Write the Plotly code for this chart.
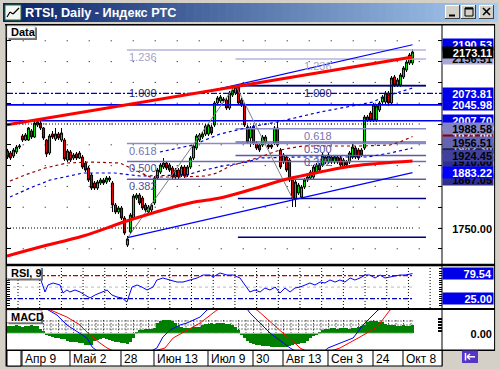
import plotly.graph_objects as go

W, H = 500, 369
FONT = "Liberation Sans"

# ---------------- data ----------------
date_labels = ["Апр 9", "Май 2", "28", "Июн 13", "Июл 9", "30", "Авг 13", "Сен 3", "24", "Окт 8"]
date_bars = [5, 21, 38, 49, 67, 82, 92, 107, 122, 132]

opens = [1935.1, 1930.3, 1923.1, 1932.7, 1944.7, 1971.2, 1961.5, 1961.5, 1983.2, 1968.7,
         1997.6, 2002.4, 1990.4, 1961.5, 1930.3, 1976.0, 1963.9, 1976.0, 1961.5, 1961.5,
         1913.5, 1932.7, 1918.3, 1927.9, 1918.3, 1920.7, 1906.2, 1894.2, 1877.4, 1858.2,
         1846.1, 1858.2, 1865.4, 1860.6, 1865.4, 1858.2, 1805.3, 1788.5, 1798.1, 1774.0,
         1709.1, 1740.4, 1774.0, 1822.1, 1829.3, 1822.1, 1805.3, 1788.5, 1793.3, 1810.1,
         1870.2, 1884.6, 1896.6, 1906.2, 1901.4, 1894.2, 1872.6, 1889.4, 1877.4, 1896.6,
         1877.4, 1896.6, 1918.3, 1942.3, 1961.5, 1968.7, 1976.0, 1976.0, 1992.8, 1997.6,
         2050.5, 2055.3, 2060.1, 2057.7, 2038.5, 2069.7, 2074.5, 2088.9, 2057.7, 2045.7,
         1992.8, 1966.3, 1992.8, 1954.3, 1949.5, 1949.5, 1956.7, 1949.5, 1949.5, 1954.3,
         1990.4, 1937.5, 1908.6, 1920.7, 1913.5, 1865.4, 1820.7, 1834.1, 1824.5, 1848.5,
         1865.4, 1870.2, 1872.6, 1884.6, 1901.4, 1901.4, 1908.6, 1908.6, 1920.7, 1908.6,
         1920.7, 1918.3, 1896.6, 1908.6, 1908.6, 1920.7, 1942.3, 1937.5, 1937.5, 1942.3,
         2009.6, 2026.4, 2009.6, 2009.6, 2033.7, 2052.9, 2052.9, 2074.5, 2050.5, 2113.0,
         2093.8, 2093.8, 2113.0, 2129.8, 2146.6, 2146.6]
highs = [1939.9, 1935.1, 1942.3, 1949.5, 1951.9, 1976.0, 1978.4, 1992.8, 1988.0, 2007.2,
         2012.0, 2007.2, 1992.8, 1963.9, 1976.0, 1983.2, 1990.4, 1980.8, 1990.4, 1966.3,
         1939.9, 1937.5, 1930.3, 1932.7, 1935.1, 1925.5, 1911.1, 1899.0, 1882.2, 1863.0,
         1865.4, 1870.2, 1870.2, 1875.0, 1875.0, 1863.0, 1810.1, 1802.9, 1802.9, 1778.8,
         1730.8, 1786.0, 1831.7, 1834.1, 1834.1, 1826.9, 1810.1, 1805.3, 1810.1, 1875.0,
         1894.2, 1906.2, 1918.3, 1911.1, 1906.2, 1899.0, 1894.2, 1894.2, 1901.4, 1901.4,
         1901.4, 1923.1, 1951.9, 1976.0, 1978.4, 1980.8, 2000.0, 2002.4, 1997.6, 2055.3,
         2067.3, 2069.7, 2064.9, 2062.5, 2079.3, 2086.5, 2092.4, 2092.0, 2062.5, 2050.5,
         1997.6, 1995.2, 1997.6, 1959.1, 1954.3, 1973.6, 1973.6, 1954.3, 1954.3, 1995.2,
         2004.8, 1942.3, 1930.3, 1925.5, 1918.3, 1870.2, 1865.4, 1858.2, 1853.4, 1870.2,
         1877.4, 1889.4, 1901.4, 1906.2, 1906.2, 1930.3, 1925.5, 1930.3, 1925.5, 1925.5,
         1925.5, 1923.1, 1918.3, 1913.5, 1935.1, 1954.3, 1947.1, 1942.3, 1942.3, 2021.6,
         2021.6, 2031.3, 2050.5, 2048.1, 2055.3, 2069.7, 2079.3, 2079.3, 2115.4, 2117.8,
         2110.6, 2122.6, 2139.4, 2153.9, 2170.7, 2180.3]
lows = [1915.9, 1913.5, 1918.3, 1927.9, 1939.9, 1956.7, 1959.1, 1959.1, 1963.9, 1966.3,
        1992.8, 1985.6, 1961.5, 1920.7, 1925.5, 1963.9, 1959.1, 1961.5, 1956.7, 1911.1,
        1908.6, 1908.6, 1913.5, 1913.5, 1915.9, 1891.8, 1884.6, 1860.6, 1841.3, 1841.3,
        1841.3, 1853.4, 1853.4, 1855.8, 1860.6, 1788.5, 1783.6, 1783.6, 1769.2, 1733.2,
        1704.4, 1735.6, 1769.2, 1817.3, 1805.3, 1793.3, 1788.5, 1783.6, 1788.5, 1805.3,
        1865.4, 1879.8, 1891.8, 1889.4, 1884.6, 1867.8, 1867.8, 1867.8, 1872.6, 1870.2,
        1872.6, 1891.8, 1913.5, 1937.5, 1956.7, 1963.9, 1971.2, 1971.2, 1973.6, 1992.8,
        2045.7, 2050.5, 2050.5, 2033.7, 2033.7, 2064.9, 2069.7, 2045.7, 2040.9, 1992.8,
        1951.9, 1944.7, 1949.5, 1937.5, 1932.7, 1944.7, 1951.9, 1939.9, 1939.9, 1949.5,
        1944.7, 1891.8, 1903.8, 1884.6, 1860.6, 1800.5, 1800.5, 1829.3, 1819.7, 1843.7,
        1860.6, 1865.4, 1867.8, 1879.8, 1884.6, 1896.6, 1903.8, 1903.8, 1903.8, 1903.8,
        1903.8, 1896.6, 1891.8, 1896.6, 1903.8, 1915.9, 1915.9, 1913.5, 1920.7, 1937.5,
        2004.8, 2004.8, 2004.8, 2004.8, 2028.8, 2048.1, 2048.1, 2043.3, 2045.7, 2088.9,
        2088.9, 2088.9, 2108.2, 2125.0, 2141.8, 2141.8]
closes = [1920.7, 1918.3, 1937.5, 1944.7, 1947.1, 1961.5, 1973.6, 1990.4, 1968.7, 2002.4,
          2004.8, 1990.4, 1966.3, 1927.9, 1971.2, 1968.7, 1976.0, 1966.3, 1978.4, 1915.9,
          1935.1, 1913.5, 1925.5, 1918.3, 1930.3, 1896.6, 1889.4, 1865.4, 1846.1, 1846.1,
          1860.6, 1865.4, 1858.2, 1870.2, 1870.2, 1805.3, 1788.5, 1798.1, 1774.0, 1738.0,
          1723.5, 1781.2, 1826.9, 1829.3, 1810.1, 1798.1, 1793.3, 1800.5, 1805.3, 1870.2,
          1889.4, 1901.4, 1906.2, 1894.2, 1889.4, 1872.6, 1889.4, 1872.6, 1896.6, 1875.0,
          1896.6, 1918.3, 1947.1, 1971.2, 1973.6, 1976.0, 1995.2, 1997.6, 1978.4, 2050.5,
          2062.5, 2064.9, 2055.3, 2038.5, 2074.5, 2081.7, 2088.9, 2050.5, 2045.7, 1997.6,
          1956.7, 1990.4, 1954.3, 1942.3, 1937.5, 1968.7, 1968.7, 1944.7, 1944.7, 1990.4,
          1949.5, 1896.6, 1925.5, 1889.4, 1865.4, 1820.7, 1860.6, 1853.4, 1848.5, 1865.4,
          1872.6, 1884.6, 1896.6, 1901.4, 1889.4, 1925.5, 1920.7, 1925.5, 1908.6, 1920.7,
          1908.6, 1901.4, 1913.5, 1901.4, 1930.3, 1944.7, 1920.7, 1918.3, 1925.5, 2016.8,
          2016.8, 2009.6, 2045.7, 2043.3, 2050.5, 2064.9, 2074.5, 2050.5, 2110.6, 2093.8,
          2105.8, 2117.8, 2134.6, 2149.0, 2165.9, 2173.11]
bars = list(range(len(closes)))

# horizontal price levels
level_solid = [2045.98, 2007.70]
level_dashdot = [2073.81]
level_dotted = [2000.0, 1750.0]
grid_levels = list(range(1700, 2201, 50))

# trend lines (bar, price)
red_trend_x = [-0.17, 135]
red_trend_y = [1998.0, 2161.0]
chan_up_x = [69, 135]
chan_up_y = [2082.0, 2190.53]
chan_lo_x = [40, 135]
chan_lo_y = [1727.0, 1883.22]
zig_x = [40, 76, 95]
zig_y = [1726.0, 2093.8, 1820.7]

# fibonacci retracements (low, high), start bar
fib_left = (1728.0, 2092.0)
fib_right = (1820.66, 2092.36)
fib_left_start = 39.8
fib_right_start = 76.0
fib_levels = [0.382, 0.5, 0.618, 1.236]
fib_texts = ["0.382", "0.500", "0.618", "1.236"]

# moving averages (bar, price)
ma_red_x = [-0.17, 10.8, 25.2, 41.8, 60.8, 70.8, 81.8, 93.2, 104.2, 115.2, 135]
ma_red_y = [1682.7, 1704.4, 1730.8, 1771.6, 1810.1, 1822.1, 1843.7, 1867.8, 1884.6, 1899.0, 1911.0]
ma_dr_x = [0.83, 5.83, 12.5, 19.8, 27.5, 37.5, 42.5, 47.5, 57.5, 65.8, 69.8, 74.2, 83.2, 90.8,
           98.2, 107.5, 117.5, 127.5, 130.8, 135]
ma_dr_y = [1862.9, 1877.4, 1894.2, 1906.2, 1908.6, 1906.2, 1889.4, 1872.6, 1872.6, 1875.0,
           1882.2, 1899.0, 1918.3, 1937.5, 1947.1, 1947.1, 1947.1, 1949.5, 1956.7, 1970.0]
ma_bl_x = [0.83, 7.5, 14.2, 25.2, 35.8, 44.2, 59.8, 64.2, 71.8, 79.8, 84.2, 97.5, 119.8, 127.5, 135]
ma_bl_y = [1824.5, 1846.1, 1865.4, 1882.2, 1882.2, 1875.0, 1877.4, 1887.0, 1899.0, 1908.6,
           1918.3, 1920.7, 1920.7, 1930.3, 1942.3]
ma_bu_x = [50.8, 61.8, 70.8, 80.8, 89.8, 104.2, 121.8, 125.2, 135]
ma_bu_y = [1932.7, 1949.5, 1976.0, 1992.8, 2004.8, 2028.8, 2052.9, 2064.9, 2086.5]

# RSI(9)
rsi_x = [0, 1.8, 4.2, 6.5, 8.2, 9.8, 10.8, 12.5, 13.5, 15.2, 17.5, 18.5, 19.8, 20.8, 22.5, 24.2,
         25.8, 27.5, 29.2, 30.8, 33.2, 34.8, 36.5, 38.2, 39.8, 41.5, 43.2, 44.8, 46.5, 48.5, 49.8,
         51.8, 54.2, 56.5, 58.5, 60.8, 63.2, 65.2, 67.5, 68.5, 70.8, 73.2, 75.2, 77.5, 79.2, 80.8,
         82.5, 84.2, 85.8, 87.5, 89.2, 90.8, 92.5, 94.2, 95.8, 97.5, 99.2, 100.8, 102.5, 104.2,
         105.8, 107.5, 109.2, 110.8, 112.5, 114.2, 115.8, 117.5, 119.2, 120.8, 122.5, 124.2,
         125.8, 127.5, 129.2, 130.8, 132.5, 135]
rsi_v = [65.6, 70.0, 72.2, 76.5, 70.0, 76.5, 72.2, 39.4, 54.7, 59.1, 54.7, 37.2, 43.8, 39.4, 43.8,
         39.4, 32.9, 26.3, 32.9, 37.2, 43.8, 32.9, 28.5, 26.3, 17.6, 50.3, 54.7, 50.3, 43.8, 50.3,
         65.6, 70.0, 65.6, 61.2, 61.2, 65.6, 70.0, 76.5, 76.5, 72.2, 80.9, 76.5, 76.5, 70.0, 54.7,
         39.4, 43.8, 39.4, 48.1, 43.8, 50.3, 37.2, 48.1, 39.4, 48.1, 50.3, 54.7, 59.1, 54.7, 61.2,
         59.1, 65.6, 61.2, 65.6, 61.2, 70.0, 65.6, 70.0, 76.5, 76.5, 70.0, 76.5, 70.0, 72.2, 74.3,
         76.5, 76.5, 79.54]
rsi_levels = [75, 50, 25]

# MACD
macd_hist = [14, 15, 14, 16, 14, 13, 15, 14, 16, 15, 14, 8, 5, -3, -6, -8, -9, -10, -11, -12,
             -16, -17, -18, -18, -19, -20, -23, -24, -24, -16, -14, -12, -10, -11, -13, -15,
             -17, -18, -19, -20, -21, -18, -10, 2, 6, 7, 8, 8, 9, 10, 20, 24, 26, 27, 26, 24,
             20, 14, 12, 11, 10, 11, 12, 12, 13, 16, 18, 19, 20, 19, 20, 21, 20, 19, 18, 17,
             12, 6, -4, -10, -16, -20, -22, -24, -24, -25, -25, -26, -27, -28, -28, -27, -28,
             -27, -26, -24, -22, -21, -20, -19, -16, -10, -6, -2, 1, 6, 8, 9, 10, 10, 9, 10,
             10, 10, 9, 10, 11, 12, 15, 17, 22, 24, 25, 24, 23, 22, 18, 17, 16, 16, 15, 15, 16,
             15, 15, 16]
macd_x = [0, 6.5, 12, 16.5, 19.8, 23.5, 26.5, 28.2, 33, 40, 45, 49.8, 51.8, 54.2, 57.5, 59.8,
          64.2, 66.5, 72, 78, 80.8, 87.5, 94.2, 100, 104, 106.8, 111.8, 115.2, 118.5, 120.8,
          123.5, 130, 135]
macd_v = [22, 36.6, 52, 36.6, 16.6, 2.6, -9.4, -27.4, -50, -60, -45, -29.4, -7.4, 6.6, 16.6,
          20.6, 32.6, 46.6, 70, 65, 40.6, 0.6, -29.4, -50, -45, -29.4, -17.4, -9.4, 16.6, 30.6,
          46.6, 65, 70]
sig_x = [0, 6.5, 13, 19.8, 24.2, 26.8, 30.8, 33.2, 40, 46, 52.5, 55.2, 59.8, 64.2, 69.8, 76,
         83.2, 87.5, 91.8, 96.5, 97.5, 103, 110.8, 117.5, 123.2, 127.5, 135]
sig_v = [20.6, 36.6, 50, 32.6, 16.6, 0.6, -19.4, -29.4, -50, -40, -29.4, -9.4, 6.6, 20.6, 46.6,
         60, 46.6, 22.6, 0.6, -23.4, -29.4, -45, -29.4, -7.4, 12.6, 46.6, 70]

# right-axis value labels (drawn in this order): value, text, background, text colour
price_labels = [
    (2156.51, "2156.51", "#A8A8D8", "#000000"),
    (2190.53, "2190.53", "#0000E8", "#FFFFFF"),
    (2173.11, "2173.11", "#000000", "#FFFFFF"),
    (2073.81, "2073.81", "#0000E8", "#FFFFFF"),
    (2045.98, "2045.98", "#0000E8", "#FFFFFF"),
    (2007.70, "2007.70", "#0000E8", "#FFFFFF"),
    (1971.00, "1971.00", "#8B0000", "#FFFFFF"),
    (1988.58, "1988.58", "#8484C4", "#000000"),
    (1942.30, "1942.30", "#000000", "#FFFFFF"),
    (1956.51, "1956.51", "#6464B4", "#000000"),
    (1910.00, "1910.00", "#30308C", "#000000"),
    (1924.45, "1924.45", "#40409E", "#000000"),
    (1867.05, "1867.05", "#30308C", "#000000"),
    (1883.22, "1883.22", "#0000FF", "#FFFFFF"),
]
rsi_labels = [(79.54, "79.54"), (25.00, "25.00")]

# ---------------- geometry helpers (layout only) ----------------
def X(px):
    return px / W

def Y(py):
    return 1 - py / H

X0, X1 = -0.167, 144.83          # bar range of the 7..442 px plot width
DATA_END = 135.2
shapes, annots = [], []

def prect(x0, y0, x1, y1, fill, line=None, lw=0, layer="above"):
    shapes.append(dict(type="rect", xref="paper", yref="paper", x0=X(x0), x1=X(x1),
                       y0=Y(y1), y1=Y(y0), fillcolor=fill,
                       line=dict(color=line or fill, width=lw), layer=layer))

def pline(x0, y0, x1, y1, color, lw=1, dash="solid"):
    shapes.append(dict(type="line", xref="paper", yref="paper", x0=X(x0), x1=X(x1),
                       y0=Y(y0), y1=Y(y1), line=dict(color=color, width=lw, dash=dash)))

traces = []

def line_trace(x, y, color, width=1, dash="solid", axis="y", shape="linear"):
    traces.append(go.Scatter(x=x, y=y, mode="lines", yaxis=axis, hoverinfo="skip",
                             line=dict(color=color, width=width, dash=dash, shape=shape),
                             showlegend=False))

# ---------------- price pane ----------------
for lv in grid_levels:
    shapes.append(dict(type="line", xref="x", yref="y", x0=5.07, x1=144.5, y0=lv, y1=lv,
                       line=dict(color="black", width=1, dash="1px,21px"), layer="below"))

fib_cols = {0.382: "#5A5AAA", 0.5: "#6C6CB4", 0.618: "#8A8AC6", 1.236: "#B4B4DA"}
for fib, start in ((fib_left, fib_left_start), (fib_right, fib_right_start)):
    lo, hi = fib
    for lv in fib_levels:
        p = lo + lv * (hi - lo)
        line_trace([start, 139.5], [p, p], fib_cols[lv], 1.5)
    for lv in (0.0, 1.0):
        p = lo + lv * (hi - lo)
        line_trace([76.8, 139.5], [p, p], "#000080", 1.5)

for lv in level_solid:
    line_trace([X0, X1], [lv, lv], "#0000F0", 1.6)
for lv in level_dashdot:
    line_trace([X0, X1], [lv, lv], "#0000C0", 1.2, "6px,2px,2px,2px")
for lv in level_dotted:
    line_trace([X0, DATA_END], [lv, lv], "black", 1, "1px,2px")

traces.append(go.Candlestick(
    x=bars, open=opens, high=highs, low=lows, close=closes, yaxis="y", hoverinfo="skip",
    increasing=dict(line=dict(color="black", width=1), fillcolor="#00E000"),
    decreasing=dict(line=dict(color="black", width=1), fillcolor="#E00000"),
    whiskerwidth=0, showlegend=False))

line_trace(ma_dr_x, ma_dr_y, "#9A0000", 1.2, "3px,3px")
line_trace(ma_bl_x, ma_bl_y, "#0000CC", 1.2, "3px,3px")
line_trace(ma_bu_x, ma_bu_y, "#0000CC", 1.2, "3px,3px")
line_trace(zig_x, zig_y, "#808080", 1)
line_trace(chan_up_x, chan_up_y, "#0000FF", 1.2)
line_trace(chan_lo_x, chan_lo_y, "#0000FF", 1.2)
line_trace(ma_red_x, ma_red_y, "#FF0000", 3, shape="spline")
line_trace(red_trend_x, red_trend_y, "#FF0000", 3)

fib_txt_cols = {0.382: "#5050A0", 0.5: "#5050A0", 0.618: "#7474B4", 1.236: "#A4A4C8"}
for fib, tx in ((fib_left, fib_left_start), (fib_right, 98.2)):
    lo, hi = fib
    for lv, t in zip(fib_levels + [1.0], fib_texts + ["1.000"]):
        annots.append(dict(xref="x", yref="y", x=tx, y=lo + lv * (hi - lo), xanchor="left",
                           yanchor="middle", yshift=-7, text=t, showarrow=False,
                           font=dict(family=FONT, size=11,
                                     color=fib_txt_cols.get(lv, "#1E1E6E"))))

# ---------------- RSI pane ----------------
for k in range(20):
    xv = 3.5 + 7.23 * k
    if xv < X1:
        shapes.append(dict(type="line", xref="x", yref="y2 domain", x0=xv, x1=xv, y0=0, y1=1,
                           line=dict(color="black", width=1, dash="1px,2px"), layer="below"))
rsi_lvl_style = {75: ("#C00000", "5px,2px,2px,2px"), 50: ("#C8C8C8", "3px,3px"),
                 25: ("#0000C0", "5px,2px,2px,2px")}
for lv in rsi_levels:
    c, d = rsi_lvl_style[lv]
    line_trace([X0, DATA_END], [lv, lv], c, 1.2, d, axis="y2")
line_trace(rsi_x, rsi_v, "#0000FF", 1, axis="y2")

# ---------------- MACD pane ----------------
for yv in (24.6, 16.6, 8.6):
    shapes.append(dict(type="line", xref="x", yref="y3", x0=12, x1=DATA_END, y0=yv, y1=yv,
                       line=dict(color="black", width=1, dash="1px,2px"), layer="below"))
k = 0
while 12 + 2.5 * k <= DATA_END:
    xv = 12 + 2.5 * k
    shapes.append(dict(type="line", xref="x", yref="y3", x0=xv, x1=xv, y0=0, y1=30,
                       line=dict(color="black", width=1, dash="1px,2px"), layer="below"))
    k += 1
line_trace([X0, DATA_END], [0, 0], "#C8C8C8", 1, axis="y3")
traces.append(go.Bar(x=bars, y=macd_hist, yaxis="y3", width=1.0, marker_color="#008000",
                     marker_line_width=0, hoverinfo="skip", showlegend=False))
line_trace(macd_x, macd_v, "#0000FF", 1, axis="y3")
line_trace(sig_x, sig_v, "#FF0000", 1, axis="y3")

# ---------------- window chrome ----------------
n = 62
for k in range(n):
    t = k / (n - 1)
    c = "rgb(%d,%d,%d)" % (10 + 156 * t, 36 + 166 * t, 106 + 134 * t)
    prect(3 + 494 * k / n, 3, 3 + 494 * (k + 1) / n + 0.6, 22, c)
annots.append(dict(xref="paper", yref="paper", x=X(23), y=Y(12.8), xanchor="left",
                   yanchor="middle", text="<b>RTSI, Daily - Индекс РТС</b>", showarrow=False,
                   font=dict(family=FONT, size=12.7, color="white")))
prect(5, 5, 21, 20, "#F4F8F0", "#2E6B2E", 1)
pline(7, 17, 10, 12, "black", 1.2)
pline(10, 12, 13, 14, "black", 1.2)
pline(13, 14, 19, 8, "black", 1.2)
for bx0, bx1 in ((445, 460), (461, 476), (479, 494)):
    prect(bx0, 5, bx1, 19, "#D4D0C8")
    pline(bx0, 5.5, bx1, 5.5, "white", 1)
    pline(bx0 + 0.5, 5, bx0 + 0.5, 19, "white", 1)
    pline(bx0, 18.5, bx1, 18.5, "#404040", 1)
    pline(bx1 - 0.5, 5, bx1 - 0.5, 19, "#404040", 1)
pline(449, 15.5, 455, 15.5, "black", 2)
prect(465, 8, 473, 16, "rgba(0,0,0,0)", "black", 1)
pline(465, 8.5, 473, 8.5, "black", 2)
pline(483, 8, 490, 15, "black", 1.6)
pline(490, 8, 483, 15, "black", 1.6)

prect(442, 25, 494.5, 350, "white")
pline(5, 24.8, 495, 24.8, "black", 1.5)
pline(6.3, 24, 6.3, 366.5, "black", 1.5)
pline(494.6, 24, 494.6, 350.5, "black", 1)
pline(442, 25, 442, 366.5, "black", 1)
pline(6, 265, 495, 265, "black", 2.5)
pline(6, 309, 495, 309, "black", 2)
pline(6, 350.3, 495, 350.3, "black", 1.5)

prect(7, 350.5, 442, 366, "white", "black", 1)
prect(7, 350.5, 21, 366, "white", "black", 1)
for b, lab in zip(date_bars, date_labels):
    shapes.append(dict(type="line", xref="x", yref="paper", x0=b - 0.17, x1=b - 0.17,
                       y0=Y(366), y1=Y(350.5), line=dict(color="black", width=1)))
    annots.append(dict(xref="x", yref="paper", x=b - 0.17, y=Y(358.6), xanchor="left",
                       yanchor="middle", xshift=1, text=lab, showarrow=False,
                       font=dict(family=FONT, size=12, color="black")))
prect(462, 350.5, 478, 363, "#5634C8")
pline(465.5, 353, 465.5, 360.5, "white", 1.5)
pline(467, 356.8, 475, 356.8, "white", 1.5)
pline(467, 356.8, 470, 354, "white", 1.3)
pline(467, 356.8, 470, 359.6, "white", 1.3)

for (bx0, by0, bx1, by1, txt) in ((7, 26, 35, 38, "Data"), (7, 266.5, 41, 278.5, "RSI, 9"),
                                  (7, 310.3, 41, 322.3, "MACD")):
    prect(bx0 + 1.5, by0 + 1.5, bx1 + 2, by1 + 2, "#707070")
    prect(bx0, by0, bx1, by1, "#FAFAFA", "#B0B0B0", 0.5)
    annots.append(dict(xref="paper", yref="paper", x=X(bx0 + 1.5), y=Y((by0 + by1) / 2 + 0.3),
                       xanchor="left", yanchor="middle", text="<b>%s</b>" % txt,
                       showarrow=False, font=dict(family=FONT, size=11, color="black")))

def value_label(yref, val, txt, bg, fg):
    annots.append(dict(xref="paper", x=X(494), xanchor="right", yref=yref, y=val,
                       yanchor="middle", text="<b>%s</b>" % txt, showarrow=False,
                       bgcolor=bg, width=48, height=9, borderpad=1, align="right",
                       font=dict(family=FONT, size=11, color=fg)))

for val, txt, bg, fg in price_labels:
    value_label("y", val, txt, bg, fg)
value_label("y", 1750.0, "1750.00", "rgba(0,0,0,0)", "#000000")
for val, txt in rsi_labels:
    value_label("y2", val, txt, "#0000E8", "#FFFFFF")
value_label("y3", 0.0, "0.00", "rgba(0,0,0,0)", "#000000")

# ---------------- figure ----------------
fig = go.Figure(traces)
axis_common = dict(showticklabels=False, showgrid=False, zeroline=False, fixedrange=True,
                   anchor="x")
fig.update_layout(
    width=W, height=H, autosize=False,
    margin=dict(l=0, r=0, t=0, b=0, pad=0),
    paper_bgcolor="#D4D0C8", plot_bgcolor="white",
    hovermode=False, showlegend=False, boxgap=0.0, bargap=0,
    xaxis=dict(domain=[X(7), X(442)], range=[X0, X1], showticklabels=False, showgrid=False,
               zeroline=False, showline=False, ticks="", anchor="y3", fixedrange=True,
               rangeslider=dict(visible=False)),
    yaxis=dict(domain=[Y(264), Y(25.5)], range=[1663.5, 2236.8], ticks="inside", ticklen=4,
               tickcolor="black", dtick=50, tick0=0, showline=True, linecolor="black",
               linewidth=1, mirror="ticks", side="right", **axis_common),
    yaxis2=dict(domain=[Y(308), Y(266.5)], range=[4.5, 95.1], ticks="inside", ticklen=3,
                tickcolor="black", dtick=5, tick0=0, showline=True, linecolor="black",
                linewidth=1, mirror="ticks", side="right", **axis_common),
    yaxis3=dict(domain=[Y(350), Y(310)], range=[-33.4, 46.6], ticks="inside", ticklen=4,
                tickcolor="black", tickvals=[3, 6, 9, 12, 15, 18, 21, 24, 27, 30],
                showline=True, linecolor="black", linewidth=1, mirror=True, side="right",
                **axis_common),
    shapes=shapes, annotations=annots,
)
fig.write_html("out.html", config={"displayModeBar": False},
               post_script="document.body.style.margin='0';document.body.style.padding='0';"
                           "document.body.style.overflow='hidden';")
